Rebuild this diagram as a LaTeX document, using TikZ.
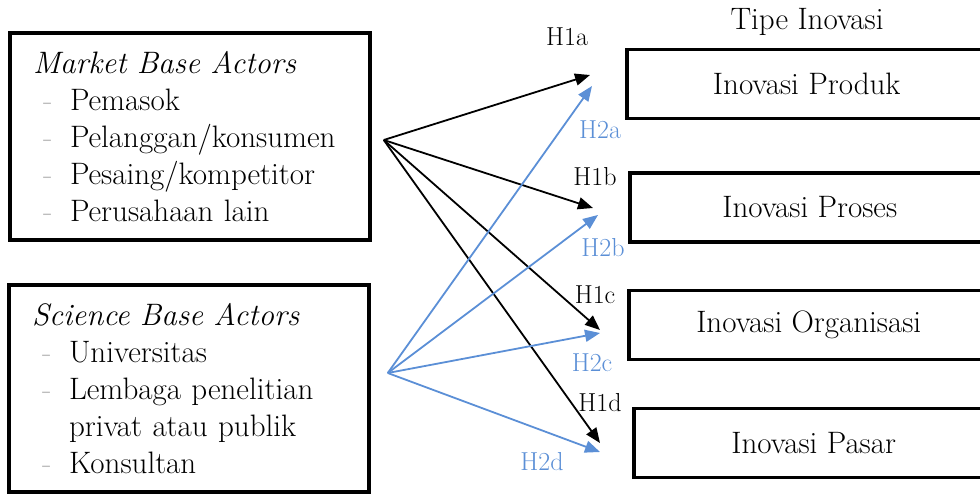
\documentclass[tikz,border=0pt]{standalone}
\usetikzlibrary{arrows.meta}
\definecolor{hypblue}{HTML}{5B8FD6}
\definecolor{dashgray}{HTML}{BDBDBD}
\newcommand{\actitem}[1]{\hspace*{10pt}\makebox[27pt][l]{\textcolor{dashgray}{-}}#1}
\begin{document}
\begin{tikzpicture}[x=1pt,y=-1pt,
  actorbox/.style={draw,line width=3.5pt,minimum height=207pt,text width=314pt,
    inner xsep=23pt,inner ysep=0pt,align=left,font=\fontsize{31}{37}\selectfont},
  typebox/.style={draw,line width=3.5pt,anchor=west,minimum width=360pt,
    minimum height=69pt,font=\fontsize{31}{36}\selectfont},
  hyplabel/.style={font=\fontsize{26}{30}\selectfont,inner sep=0pt},
  hyparrow/.style={line width=1.8pt,-{Triangle[length=15pt,width=12pt]}}]
  \useasboundingbox (0,0) rectangle (980,493);
  \clip (0,0) rectangle (980,493);
  % actor groups
  \node[actorbox] (market) at (190,136.5) {\textit{Market Base Actors}\\
    \actitem{Pemasok}\\ \actitem{Pelanggan/konsumen}\\
    \actitem{Pesaing/kompetitor}\\ \actitem{Perusahaan lain}};
  \node[actorbox] (science) at (189,388.5) {\textit{Science Base Actors}\\
    \actitem{Universitas}\\ \actitem{Lembaga penelitian}\\
    \hspace*{37pt}privat atau publik\\ \actitem{Konsultan}};
  % innovation types
  \node[font=\fontsize{31}{36}\selectfont] (tipe) at (807,22) {Tipe Inovasi};
  \node[typebox] (produk) at (625,84) {Inovasi Produk};
  \node[typebox] (proses) at (628,207.5) {Inovasi Proses};
  \node[typebox] (organisasi) at (627,325) {Inovasi Organisasi};
  \node[typebox] (pasar) at (632,443) {Inovasi Pasar};
  % fan points and arrow tips
  \coordinate (mfan) at ([xshift=12pt,yshift=-3.5pt]market.east);
  \coordinate (sfan) at ([xshift=17pt,yshift=15.5pt]science.east);
  \coordinate (t1a) at (590,75);
  \coordinate (t1b) at (593,208);
  \coordinate (t1c) at (600,330);
  \coordinate (t1d) at (600,443);
  \coordinate (t2a) at (592,86);
  \coordinate (t2b) at (598,215);
  \coordinate (t2c) at (600,333);
  \coordinate (t2d) at (600,452);
  \foreach \tip in {t1a,t1b,t1c,t1d} \draw[hyparrow] (mfan) -- (\tip);
  \foreach \tip in {t2a,t2b,t2c,t2d} \draw[hyparrow,hypblue] (sfan) -- (\tip);
  % hypothesis labels
  \node[hyplabel] (h1a) at (567,37) {H1a};
  \node[hyplabel] (h1b) at (595,177) {H1b};
  \node[hyplabel] (h1c) at (595,295) {H1c};
  \node[hyplabel] (h1d) at (600,403) {H1d};
  \node[hyplabel,hypblue] (h2a) at (600,130) {H2a};
  \node[hyplabel,hypblue] (h2b) at (603,248) {H2b};
  \node[hyplabel,hypblue] (h2c) at (592,363) {H2c};
  \node[hyplabel,hypblue] (h2d) at (542,462) {H2d};
\end{tikzpicture}
\end{document}
